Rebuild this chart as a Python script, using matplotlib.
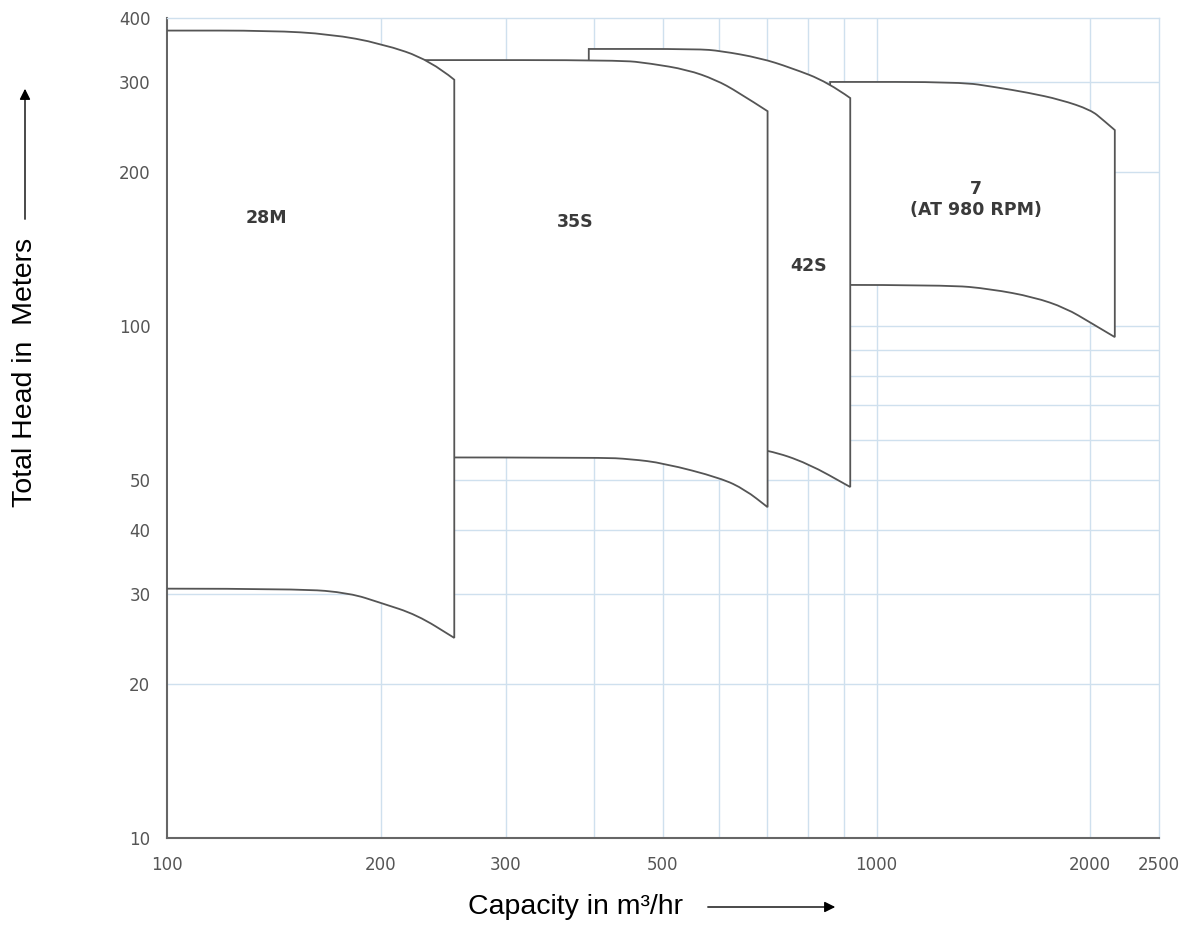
import numpy as np
import matplotlib
matplotlib.use("Agg")
import matplotlib.pyplot as plt
from matplotlib.path import Path
from matplotlib.patches import PathPatch, FancyArrowPatch

# pump envelopes: (capacity m3/hr, head m) along top edge and bottom edge, left -> right
top_28m_q = [100, 140, 170, 200, 235, 254]
top_28m_h = [378, 378, 372, 357, 331, 303]
bot_28m_q = [100, 154, 181, 200, 225, 254]
bot_28m_h = [30.7, 30.7, 30.1, 28.8, 27.3, 24.6]

top_35s_q = [230, 435, 480, 541, 593, 637, 702]
top_35s_h = [331, 331, 326, 317, 303, 287, 263]
bot_35s_q = [230, 408, 450, 501, 603, 653, 702]
bot_35s_h = [55.4, 55.4, 55.0, 54.0, 50.5, 47.9, 44.3]

top_42s_q = [393, 559, 603, 686, 756, 853, 918]
top_42s_h = [348, 348, 345, 334, 320, 300, 279]
bot_42s_q = [393, 600, 704, 799, 918]
bot_42s_h = [59.0, 59.0, 57.3, 54.0, 48.5]

top_7_q = [860, 1314, 1472, 1633, 1817, 2004, 2084, 2166]
top_7_h = [300, 300, 293, 286, 277, 264.5, 253, 241.6]
bot_7_q = [860, 1259, 1448, 1665, 1847, 2004, 2166]
bot_7_h = [120.4, 120.4, 118.2, 114, 108.5, 101.5, 95.2]

pumps = ["7", "42S", "35S", "28M"]
label_text = {"28M": "28M", "35S": "35S", "42S": "42S", "7": "7\n(AT 980 RPM)"}
label_pos = {"28M": (138, 163), "35S": (376, 160), "42S": (802, 131), "7": (1379, 177)}
envelopes = {
    "28M": (top_28m_q, top_28m_h, bot_28m_q, bot_28m_h),
    "35S": (top_35s_q, top_35s_h, bot_35s_q, bot_35s_h),
    "42S": (top_42s_q, top_42s_h, bot_42s_q, bot_42s_h),
    "7": (top_7_q, top_7_h, bot_7_q, bot_7_h),
}

x_ticks = [100, 200, 300, 500, 1000, 2000, 2500]
y_ticks = [10, 20, 30, 40, 50, 100, 200, 300, 400]
x_grid = [200, 300, 400, 500, 600, 700, 800, 900, 1000, 2000]
y_grid = [20, 30, 40, 50, 60, 70, 80, 90, 100, 200, 300]

grid_color = "#cfe0ee"
edge_color = "#555555"


def smooth_run(q, h):
    # quadratic bezier through midpoints (geometric mean, since both axes are log)
    q = np.asarray(q, float)
    h = np.asarray(h, float)
    verts = []
    codes = []
    n = len(q)
    mid = lambda i: (np.sqrt(q[i] * q[i + 1]), np.sqrt(h[i] * h[i + 1]))
    verts.append(mid(0))
    codes.append(Path.LINETO)
    for i in range(1, n - 1):
        end = (q[-1], h[-1]) if i == n - 2 else mid(i)
        verts += [(q[i], h[i]), end]
        codes += [Path.CURVE3, Path.CURVE3]
    return verts, codes


def envelope_path(tq, th, bq, bh):
    verts = [(tq[0], th[0])]
    codes = [Path.MOVETO]
    v, c = smooth_run(tq, th)
    verts += v
    codes += c
    verts.append((bq[-1], bh[-1]))
    codes.append(Path.LINETO)
    v, c = smooth_run(bq[::-1], bh[::-1])
    verts += v
    codes += c
    verts.append((tq[0], th[0]))
    codes.append(Path.CLOSEPOLY)
    return Path(verts, codes)


fig = plt.figure(figsize=(11.89, 9.27), dpi=100)
ax = fig.add_axes([167 / 1189, 89 / 927, 992 / 1189, 820 / 927])
ax.set_xscale("log")
ax.set_yscale("log")
ax.set_xlim(100, 2500)
ax.set_ylim(10, 400)

for q in x_grid:
    ax.axvline(q, color=grid_color, lw=1.0, zorder=0)
for h in y_grid:
    ax.axhline(h, color=grid_color, lw=1.0, zorder=0)

# later pumps sit behind earlier ones
for z, name in enumerate(pumps):
    path = envelope_path(*envelopes[name])
    patch = PathPatch(path, facecolor="white", edgecolor=edge_color,
                      lw=1.3, joinstyle="miter", zorder=2 + z)
    ax.add_patch(patch)
    lx, ly = label_pos[name]
    ax.text(lx, ly, label_text[name], ha="center", va="center", fontsize=12.5,
            fontweight="bold", color="#3a3a3a", family="DejaVu Sans",
            linespacing=1.2, zorder=10)

ax.set_xticks(x_ticks)
ax.set_xticklabels([str(v) for v in x_ticks])
ax.set_yticks(y_ticks)
ax.set_yticklabels([str(v) for v in y_ticks])
ax.minorticks_off()
ax.tick_params(length=0, labelsize=12, labelcolor="#555555")
ax.tick_params(axis="x", pad=13)
ax.tick_params(axis="y", pad=12)

for side in ["left", "bottom"]:
    ax.spines[side].set_color("#666666")
    ax.spines[side].set_linewidth(1.5)
for side in ["top", "right"]:
    ax.spines[side].set_color(grid_color)
    ax.spines[side].set_linewidth(1.0)

# axis titles with arrows
fig.text(25 / 1189, 1 - 372 / 927, "Total Head in  Meters", rotation=90,
         ha="center", va="center", fontsize=20.5, family="Liberation Sans")
fig.text(575 / 1189, 1 - 907 / 927, "Capacity in m\u00b3/hr", ha="center",
         va="center", fontsize=20.5, family="Liberation Sans")
arrow = dict(arrowstyle="-|>", color="black", lw=1.0, mutation_scale=16)
fig.add_artist(FancyArrowPatch(
    (25 / 1189, 1 - 222 / 927), (25 / 1189, 1 - 86 / 927),
    transform=fig.transFigure, **arrow))
fig.add_artist(FancyArrowPatch(
    (705 / 1189, 1 - 907 / 927), (838 / 1189, 1 - 907 / 927),
    transform=fig.transFigure, **arrow))

fig.savefig("out.png", dpi=100, facecolor="white")
